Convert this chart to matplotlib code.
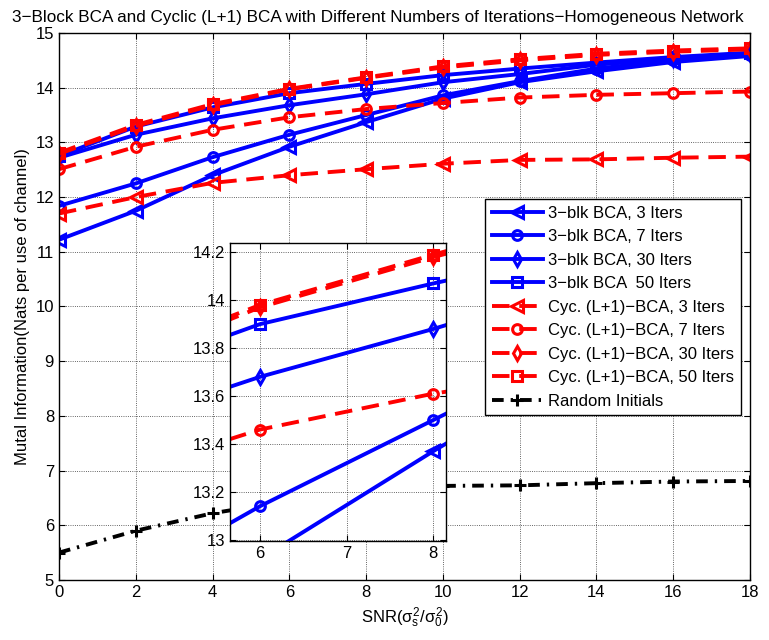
# ===============================
# MUTUAL INFORMATION vs SNR: 3-BLOCK BCA vs CYCLIC (L+1) BCA
# ===============================

import numpy as np
import matplotlib
matplotlib.use("Agg")
import matplotlib.pyplot as plt

plt.rcParams['font.family'] = ['Liberation Sans', 'DejaVu Sans']
plt.rcParams['mathtext.fontset'] = 'custom'
plt.rcParams['mathtext.rm'] = 'Liberation Sans'
plt.rcParams['mathtext.it'] = 'Liberation Sans'
plt.rcParams['font.size'] = 12

# -------------------------------
# DATA
# -------------------------------
snr = [0, 2, 4, 6, 8, 10, 12, 14, 16, 18]

blk3 = [11.22, 11.75, 12.40, 12.92, 13.37, 13.80, 14.10, 14.30, 14.47, 14.58]
blk7 = [11.84, 12.25, 12.73, 13.14, 13.50, 13.86, 14.12, 14.35, 14.50, 14.60]
blk30 = [12.72, 13.14, 13.44, 13.68, 13.88, 14.10, 14.25, 14.42, 14.53, 14.62]
blk50 = [12.75, 13.29, 13.64, 13.90, 14.07, 14.23, 14.35, 14.46, 14.56, 14.64]

cyc3 = [11.70, 12.00, 12.26, 12.40, 12.51, 12.61, 12.68, 12.69, 12.72, 12.74]
cyc7 = [12.51, 12.92, 13.23, 13.46, 13.61, 13.72, 13.82, 13.87, 13.90, 13.93]
cyc30 = [12.79, 13.30, 13.68, 13.97, 14.18, 14.37, 14.50, 14.60, 14.66, 14.70]
cyc50 = [12.81, 13.32, 13.70, 13.98, 14.19, 14.39, 14.52, 14.62, 14.68, 14.72]

rand_init = [5.50, 5.90, 6.22, 6.45, 6.62, 6.72, 6.73, 6.77, 6.80, 6.81]

labels = ["3\u2212blk BCA, 3 Iters", "3\u2212blk BCA, 7 Iters",
          "3\u2212blk BCA, 30 Iters", "3\u2212blk BCA  50 Iters",
          "Cyc. (L+1)\u2212BCA, 3 Iters", "Cyc. (L+1)\u2212BCA, 7 Iters",
          "Cyc. (L+1)\u2212BCA, 30 Iters", "Cyc. (L+1)\u2212BCA, 50 Iters",
          "Random Initials"]

series = [blk3, blk7, blk30, blk50, cyc3, cyc7, cyc30, cyc50, rand_init]
colors = ['#0000ff'] * 4 + ['#ff0000'] * 4 + ['black']
markers = ['<', 'o', 'd', 's', '<', 'o', 'd', 's', '+']
dashes = [None] * 4 + [(4.5, 2.5)] * 4 + [(3.0, 1.8, 0.6, 1.8)]


def draw_series(ax):
    lines = []
    for y, c, m, d, lab in zip(series, colors, markers, dashes, labels):
        ms = 8 if m in ('<', '+') else 7
        ln, = ax.plot(snr, y, color=c, marker=m, lw=2.8, ms=ms, mew=2.2,
                      mfc='none', mec=c, label=lab)
        if d is not None:
            ln.set_dashes(d)
        lines.append(ln)
    return lines


def matlab_style(ax):
    ax.grid(True, linestyle=':', color='black', lw=0.6, alpha=0.8)
    ax.tick_params(direction='in', top=True, right=True, length=4,
                   labelsize=12)
    for s in ax.spines.values():
        s.set_linewidth(1.0)


# -------------------------------
# MAIN PLOT
# -------------------------------
fig = plt.figure(figsize=(7.69, 6.4), dpi=100)
ax = fig.add_axes([0.0767, 0.0938, 0.8986, 0.8546])

lines = draw_series(ax)
ax.set_xlim(0, 18)
ax.set_ylim(5, 15)
ax.set_xticks(range(0, 19, 2))
ax.set_yticks(range(5, 16))
matlab_style(ax)

ax.set_title("3\u2212Block BCA and Cyclic (L+1) BCA with Different Numbers "
             "of Iterations\u2212Homogeneous Network", fontsize=12.3, pad=8,
             x=0.462)
ax.set_xlabel(r"SNR($\sigma_s^2/\sigma_0^2$)", fontsize=12)
ax.set_ylabel("Mutal Information(Nats per use of channel)", fontsize=12)

leg = ax.legend(loc='upper left', bbox_to_anchor=(0.6165, 0.6965),
                borderaxespad=0, fontsize=12, handlelength=3.1,
                handletextpad=0.3, labelspacing=0.51, borderpad=0.4,
                fancybox=False, framealpha=1, edgecolor='black')
leg.get_frame().set_linewidth(1.0)

# -------------------------------
# INSET (zoom on SNR 6..8)
# -------------------------------
axin = fig.add_axes([0.299, 0.1547, 0.281, 0.4661])
draw_series(axin)
axin.set_xlim(5.654, 8.146)
axin.set_ylim(12.995, 14.24)
axin.set_xticks([6, 7, 8])
axin.set_yticks([13, 13.2, 13.4, 13.6, 13.8, 14, 14.2])
axin.set_yticklabels(["13", "13.2", "13.4", "13.6", "13.8", "14", "14.2"])
matlab_style(axin)

fig.savefig("out.png", dpi=100)
